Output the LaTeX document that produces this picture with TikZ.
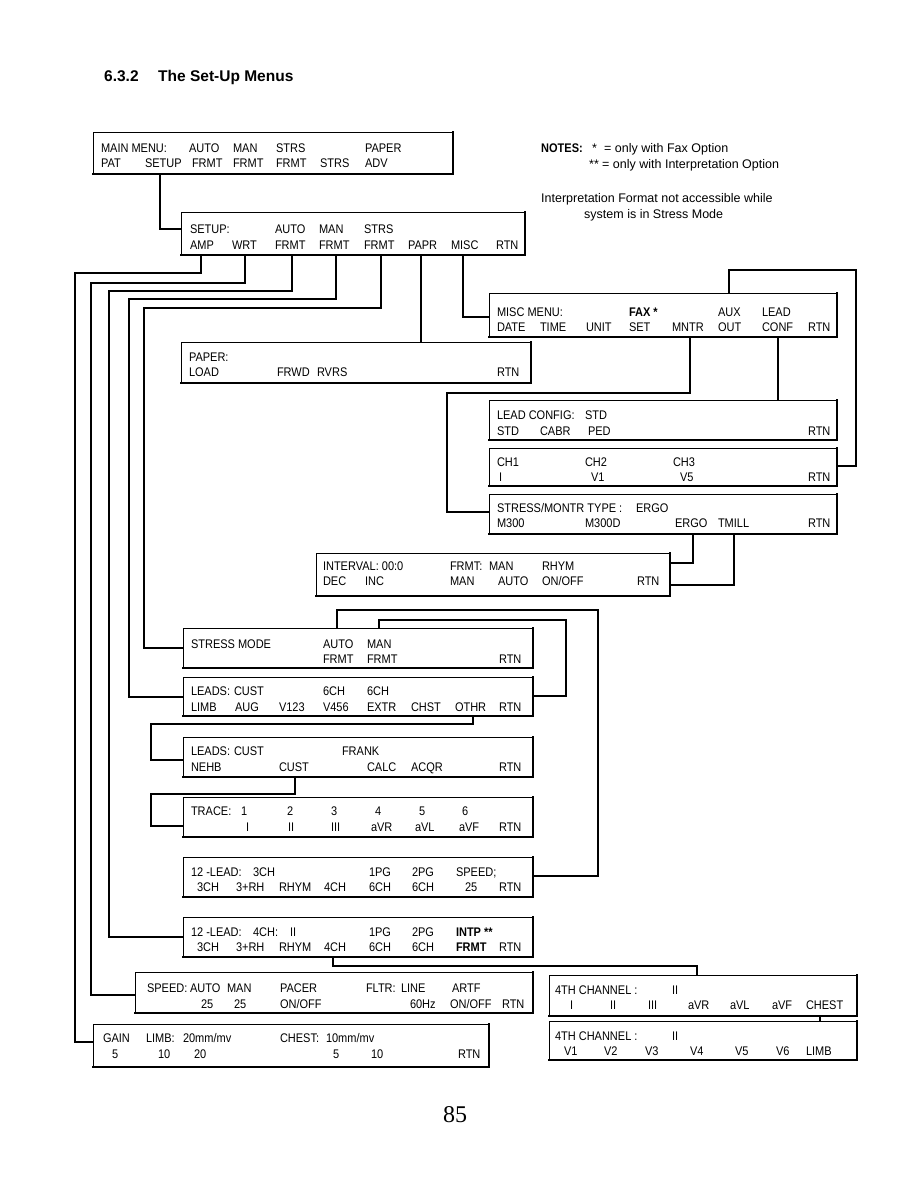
\documentclass[tikz,border=0pt]{standalone}
\usepackage{fontspec}
\setmainfont{Liberation Sans}
\newfontfamily\boxfont{Liberation Sans}[FakeStretch=0.88]
\newfontfamily\pagefont{Liberation Serif}
\newcounter{tn}
\newcommand\tx[3]{\stepcounter{tn}\node[lbl] (t\arabic{tn}) at (#1,#2) {#3};}
\newcommand\bx[5]{%
  \node[boxn, minimum width={#4-#2}, minimum height={#5-#3}] (#1) at ({(#2+#4)/2},{(#3+#5)/2}) {};
  \draw[shadowline] (#1.north east) -- (#1.south east) -- (#1.south west);}
\tikzset{
  lbl/.style={anchor=base west, inner sep=0pt, outer sep=0pt, font=\boxfont\fontsize{12.5}{14}\selectfont},
  note/.style={anchor=base west, inner sep=0pt, font=\fontsize{12.5}{14}\selectfont},
  boxn/.style={draw, rectangle, line width=0.8pt, inner sep=0pt, outer sep=0pt},
  shadowline/.style={line width=1.8pt, line cap=rect},
  conn/.style={line width=1.1pt, line join=miter}
}
\begin{document}
\begin{tikzpicture}[x=1pt,y=-1pt]
\useasboundingbox (0,0) rectangle (918,1188);
% title
\node[anchor=base west, inner sep=0pt, font=\bfseries\fontsize{15.5}{17}\selectfont] (title1) at (104,82) {6.3.2};
\node[anchor=base west, inner sep=0pt, font=\bfseries\fontsize{15.5}{17}\selectfont] (title2) at (158,82) {The Set-Up Menus};
% notes
\node[note, font=\boxfont\bfseries\fontsize{12.5}{14}\selectfont] (n1) at (541,152) {NOTES:};
\node[note] (n1b) at (592,152) {*};
\node[note] (n2) at (604,152) {= only with Fax Option};
\node[note] (n3) at (589,168) {**};
\node[note] (n4) at (602,168) {= only with Interpretation Option};
\node[note] (n5) at (541,202) {Interpretation Format not accessible while};
\node[note] (n6) at (584,218) {system is in Stress Mode};
% page number
\node[anchor=base, inner sep=0pt, font=\pagefont\fontsize{24}{26}\selectfont] (pg) at (455,1122) {85};

% ---------- boxes ----------
\bx{main}{93}{132}{453}{174}
\tx{101}{152}{MAIN MENU:}\tx{189}{152}{AUTO}\tx{233}{152}{MAN}\tx{276}{152}{STRS}\tx{365}{152}{PAPER}
\tx{101}{167}{PAT}\tx{145}{167}{SETUP}\tx{192}{167}{FRMT}\tx{233}{167}{FRMT}\tx{276}{167}{FRMT}\tx{320}{167}{STRS}\tx{365}{167}{ADV}

\bx{setup}{181}{212}{525}{255}
\tx{190}{233}{SETUP:}\tx{275}{233}{AUTO}\tx{319}{233}{MAN}\tx{364}{233}{STRS}
\tx{190}{249}{AMP}\tx{232}{249}{WRT}\tx{275}{249}{FRMT}\tx{319}{249}{FRMT}\tx{364}{249}{FRMT}\tx{408}{249}{PAPR}\tx{451}{249}{MISC}\tx{496}{249}{RTN}

\bx{misc}{489}{293}{837}{337}
\tx{497}{316}{MISC MENU:}\tx{629}{316}{\bfseries FAX *}\tx{718}{316}{AUX}\tx{762}{316}{LEAD}
\tx{497}{331}{DATE}\tx{540}{331}{TIME}\tx{586}{331}{UNIT}\tx{629}{331}{SET}\tx{672}{331}{MNTR}\tx{718}{331}{OUT}\tx{762}{331}{CONF}\tx{808}{331}{RTN}

\bx{paper}{181}{342}{531}{383}
\tx{189}{361}{PAPER:}
\tx{189}{376}{LOAD}\tx{277}{376}{FRWD}\tx{317}{376}{RVRS}\tx{497}{376}{RTN}

\bx{leadcfg}{489}{400}{837}{440}
\tx{497}{419}{LEAD CONFIG:}\tx{585}{419}{STD}
\tx{497}{435}{STD}\tx{540}{435}{CABR}\tx{588}{435}{PED}\tx{808}{435}{RTN}

\bx{ch}{489}{448}{837}{486}
\tx{497}{466}{CH1}\tx{585}{466}{CH2}\tx{673}{466}{CH3}
\tx{499}{481}{I}\tx{591}{481}{V1}\tx{680}{481}{V5}\tx{808}{481}{RTN}

\bx{stmon}{489}{494}{837}{534}
\tx{497}{512}{STRESS/MONTR TYPE :}\tx{636}{512}{ERGO}
\tx{497}{527}{M300}\tx{585}{527}{M300D}\tx{675}{527}{ERGO}\tx{718}{527}{TMILL}\tx{808}{527}{RTN}

\bx{interval}{316}{553}{670}{596}
\tx{323}{570}{INTERVAL: 00:0}\tx{450}{570}{FRMT:}\tx{489}{570}{MAN}\tx{542}{570}{RHYM}
\tx{323}{585}{DEC}\tx{365}{585}{INC}\tx{450}{585}{MAN}\tx{498}{585}{AUTO}\tx{542}{585}{ON/OFF}\tx{637}{585}{RTN}

\bx{stress}{183}{628}{533}{668}
\tx{191}{648}{STRESS MODE}\tx{323}{648}{AUTO}\tx{367}{648}{MAN}
\tx{323}{663}{FRMT}\tx{367}{663}{FRMT}\tx{499}{663}{RTN}

\bx{leadsa}{183}{677}{533}{716}
\tx{191}{695}{LEADS:}\tx{234}{695}{CUST}\tx{323}{695}{6CH}\tx{367}{695}{6CH}
\tx{191}{711}{LIMB}\tx{235}{711}{AUG}\tx{279}{711}{V123}\tx{323}{711}{V456}\tx{367}{711}{EXTR}\tx{411}{711}{CHST}\tx{455}{711}{OTHR}\tx{499}{711}{RTN}

\bx{leadsb}{183}{737}{533}{777}
\tx{191}{755}{LEADS:}\tx{234}{755}{CUST}\tx{342}{755}{FRANK}
\tx{191}{771}{NEHB}\tx{279}{771}{CUST}\tx{367}{771}{CALC}\tx{411}{771}{ACQR}\tx{499}{771}{RTN}

\bx{trace}{183}{797}{533}{837}
\tx{191}{815}{TRACE:}\tx{241}{815}{1}\tx{287}{815}{2}\tx{331}{815}{3}\tx{375}{815}{4}\tx{419}{815}{5}\tx{462}{815}{6}
\tx{246}{831}{I}\tx{288}{831}{II}\tx{331}{831}{III}\tx{371}{831}{aVR}\tx{415}{831}{aVL}\tx{459}{831}{aVF}\tx{499}{831}{RTN}

\bx{lthree}{183}{857}{533}{897}
\tx{191}{876}{12 -LEAD:}\tx{253}{876}{3CH}\tx{369}{876}{1PG}\tx{412}{876}{2PG}\tx{456}{876}{SPEED;}
\tx{197}{891}{3CH}\tx{236}{891}{3+RH}\tx{279}{891}{RHYM}\tx{324}{891}{4CH}\tx{369}{891}{6CH}\tx{412}{891}{6CH}\tx{465}{891}{25}\tx{499}{891}{RTN}

\bx{lfour}{183}{917}{533}{957}
\tx{191}{936}{12 -LEAD:}\tx{253}{936}{4CH:}\tx{290}{936}{II}\tx{369}{936}{1PG}\tx{412}{936}{2PG}\tx{456}{936}{\bfseries INTP **}
\tx{197}{951}{3CH}\tx{236}{951}{3+RH}\tx{279}{951}{RHYM}\tx{324}{951}{4CH}\tx{369}{951}{6CH}\tx{412}{951}{6CH}\tx{456}{951}{\bfseries FRMT}\tx{499}{951}{RTN}

\bx{speed}{135}{972}{533}{1013}
\tx{147}{992}{SPEED:}\tx{190}{992}{AUTO}\tx{227}{992}{MAN}\tx{280}{992}{PACER}\tx{366}{992}{FLTR:}\tx{401}{992}{LINE}\tx{452}{992}{ARTF}
\tx{201}{1008}{25}\tx{234}{1008}{25}\tx{280}{1008}{ON/OFF}\tx{410}{1008}{60Hz}\tx{450}{1008}{ON/OFF}\tx{502}{1008}{RTN}

\bx{gain}{93}{1024}{489}{1067}
\tx{103}{1042}{GAIN}\tx{146}{1042}{LIMB:}\tx{183}{1042}{20mm/mv}\tx{280}{1042}{CHEST:}\tx{326}{1042}{10mm/mv}
\tx{112}{1058}{5}\tx{158}{1058}{10}\tx{194}{1058}{20}\tx{333}{1058}{5}\tx{371}{1058}{10}\tx{458}{1058}{RTN}

\bx{chana}{549}{975}{857}{1016}
\tx{555}{994}{4TH CHANNEL :}\tx{672}{994}{II}
\tx{570}{1009}{I}\tx{610}{1009}{II}\tx{648}{1009}{III}\tx{688}{1009}{aVR}\tx{730}{1009}{aVL}\tx{772}{1009}{aVF}\tx{806}{1009}{CHEST}

\bx{chanb}{549}{1021}{857}{1060}
\tx{555}{1040}{4TH CHANNEL :}\tx{672}{1040}{II}
\tx{564}{1055}{V1}\tx{604}{1055}{V2}\tx{645}{1055}{V3}\tx{690}{1055}{V4}\tx{735}{1055}{V5}\tx{776}{1055}{V6}\tx{806}{1055}{LIMB}

% ---------- connectors ----------
\draw[conn] (160,0 |- main.south) |- (setup.west |- 0,229);
\draw[conn] (201,0 |- setup.south) |- (75,273) |- (gain.west |- 0,1042);
\draw[conn] (245,0 |- setup.south) |- (91,283) |- (speed.west |- 0,995);
\draw[conn] (292,0 |- setup.south) |- (109,291) |- (lfour.west |- 0,937);
\draw[conn] (336,0 |- setup.south) |- (129,299) |- (leadsa.west |- 0,697);
\draw[conn] (381,0 |- setup.south) |- (144,308) |- (stress.west |- 0,648);
\draw[conn] (421,0 |- setup.south) -- (421,0 |- paper.north);
\draw[conn] (463,0 |- setup.south) |- (misc.west |- 0,317);
\draw[conn] (690,0 |- misc.south) |- (447,393) |- (stmon.west |- 0,512);
\draw[conn] (778,0 |- misc.south) -- (778,0 |- leadcfg.north);
\draw[conn] (729,0 |- misc.north) |- (856,270) |- (ch.east |- 0,466);
\draw[conn] (693,0 |- stmon.south) |- (interval.east |- 0,563);
\draw[conn] (734,0 |- stmon.south) |- (interval.east |- 0,585);
\draw[conn] (337,0 |- stress.north) |- (598,610) |- (lthree.east |- 0,876);
\draw[conn] (379,0 |- stress.north) |- (566,620) |- (leadsa.east |- 0,696);
\draw[conn] (473,0 |- leadsa.south) |- (151,724) |- (leadsb.west |- 0,760);
\draw[conn] (295,0 |- leadsb.south) |- (151,794) |- (trace.west |- 0,826);
\draw[conn] (333,0 |- lfour.south) |- (697,966) -- (697,0 |- chana.north);
\draw[conn] (820,0 |- chana.south) -- (820,0 |- chanb.north);
\end{tikzpicture}
\end{document}
